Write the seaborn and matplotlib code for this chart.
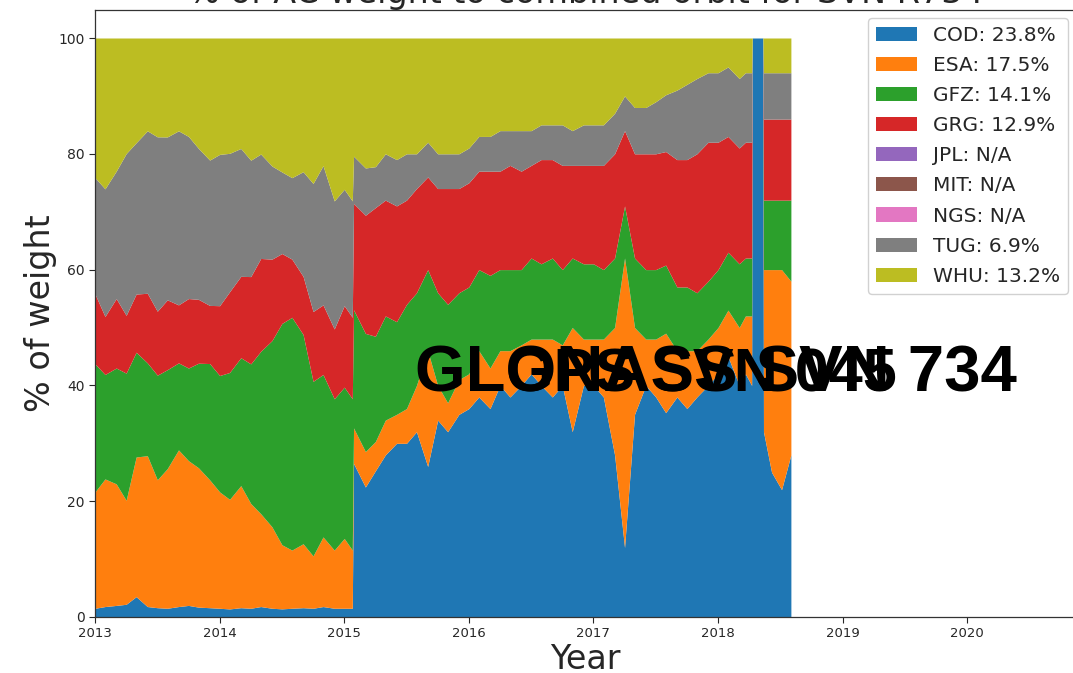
import numpy as np
import matplotlib
matplotlib.use("Agg")
import matplotlib.pyplot as plt
import seaborn as sns

# Analysis centres contributing to the combined orbit
centres = ["COD", "ESA", "GFZ", "GRG", "JPL", "MIT", "NGS", "TUG", "WHU"]
# Mean share of each centre over the whole period (legend text)
mean_share = ["23.8%", "17.5%", "14.1%", "12.9%", "N/A", "N/A", "N/A", "6.9%", "13.2%"]
year_ticks = [2013, 2014, 2015, 2016, 2017, 2018, 2019, 2020]

# Epochs (decimal year) of the weight samples
epochs = [
    2013.00, 2013.08, 2013.17, 2013.25, 2013.33, 2013.42, 2013.50, 2013.58, 2013.67, 2013.75, 2013.83, 2013.92,
    2014.00, 2014.08, 2014.17, 2014.25, 2014.33, 2014.42, 2014.50, 2014.58, 2014.67, 2014.75, 2014.83, 2014.92,
    2015.00, 2015.065, 2015.075, 2015.17, 2015.25, 2015.33, 2015.42, 2015.50, 2015.58, 2015.67, 2015.75, 2015.83, 2015.92,
    2016.00, 2016.08, 2016.17, 2016.25, 2016.33, 2016.42, 2016.50, 2016.58, 2016.67, 2016.75, 2016.83, 2016.92,
    2017.00, 2017.08, 2017.17, 2017.25, 2017.33, 2017.42, 2017.50, 2017.58, 2017.67, 2017.75, 2017.83, 2017.92,
    2018.00, 2018.08, 2018.17, 2018.22, 2018.27, 2018.275, 2018.36, 2018.365, 2018.43, 2018.51, 2018.585,
]

# Relative weight of each centre at every epoch
cod = [1.5, 1.8, 2.0, 2.2, 3.5, 1.8, 1.6, 1.5, 1.8, 2.0, 1.7, 1.6,
       1.5, 1.4, 1.6, 1.5, 1.8, 1.5, 1.4, 1.5, 1.6, 1.5, 1.8, 1.5,
       1.5, 1.5, 26, 22, 25, 28, 30, 30, 32, 26, 34, 32, 35,
       36, 38, 36, 40, 38, 40, 42, 40, 38, 40, 32, 40,
       40, 38, 28, 12, 35, 40, 38, 36, 38, 36, 38, 40,
       42, 45, 40, 42, 40, 100, 100, 32, 25, 22, 28]
esa = [20, 22, 21, 18, 24, 26, 22, 24, 27, 25, 24, 22,
       20, 19, 21, 18, 16, 14, 11, 10, 11, 9, 12, 10,
       12, 10, 6, 6, 5, 6, 5, 6, 8, 20, 6, 5, 6,
       6, 8, 7, 6, 8, 7, 6, 8, 10, 7, 18, 8,
       8, 10, 22, 50, 15, 8, 10, 14, 8, 10, 8, 8,
       8, 8, 10, 10, 12, 0, 0, 28, 35, 38, 30]
gfz = [22, 18, 20, 22, 18, 16, 18, 17, 15, 16, 18, 20,
       20, 22, 22, 24, 28, 32, 38, 40, 36, 30, 28, 26,
       26, 26, 20, 20, 18, 18, 16, 18, 16, 14, 16, 17, 15,
       15, 14, 16, 14, 14, 13, 14, 13, 14, 13, 12, 13,
       13, 12, 12, 9, 12, 12, 12, 12, 11, 11, 10, 10,
       10, 10, 11, 10, 10, 0, 0, 12, 12, 12, 14]
grg = [12, 10, 12, 10, 10, 12, 11, 12, 10, 12, 11, 10,
       12, 14, 14, 15, 16, 14, 12, 10, 10, 12, 12, 12,
       14, 14, 18, 20, 22, 20, 20, 18, 18, 16, 18, 20, 18,
       18, 17, 18, 17, 18, 17, 16, 18, 17, 18, 16, 17,
       17, 18, 18, 13, 18, 20, 20, 20, 22, 22, 24, 24,
       22, 20, 20, 20, 20, 0, 0, 14, 14, 14, 14]
jpl = [0] * len(epochs)
mit = [0] * len(epochs)
ngs = [0] * len(epochs)
tug = [20, 22, 22, 28, 26, 28, 30, 28, 30, 28, 26, 25,
       26, 24, 22, 20, 18, 16, 14, 14, 18, 22, 24, 22,
       20, 20, 8, 8, 7, 8, 8, 8, 6, 6, 6, 6, 6,
       6, 6, 6, 7, 6, 7, 6, 6, 6, 7, 6, 7,
       7, 7, 7, 6, 8, 8, 9, 10, 12, 13, 13, 12,
       12, 12, 12, 12, 12, 0, 0, 8, 8, 8, 8]
whu = [24, 26, 23, 20, 18, 16, 17, 17, 16, 17, 19, 21,
       20, 20, 19, 21, 20, 22, 23, 24, 23, 25, 22, 28,
       26, 28, 20, 22, 22, 20, 21, 20, 20, 18, 20, 20, 20,
       19, 17, 17, 16, 16, 16, 16, 15, 15, 15, 16, 15,
       15, 15, 13, 10, 12, 12, 11, 10, 9, 8, 7, 6,
       6, 5, 7, 6, 6, 0, 0, 6, 6, 6, 6]

weights = np.array([cod, esa, gfz, grg, jpl, mit, ngs, tug, whu], dtype=float)
percent = weights / weights.sum(axis=0) * 100.0

sns.set_style("ticks")
plt.rcParams["font.family"] = ["DejaVu Sans"]
palette = sns.color_palette("tab10", len(centres))

W, H = 1073, 673
fig = plt.figure(figsize=(W / 100, H / 100), dpi=100)
ax = fig.add_axes([95 / W, 56 / H, (1076 - 95) / W, (617 - 10) / H])

labels = [f"{c}: {s}" for c, s in zip(centres, mean_share)]
ax.stackplot(epochs, percent, colors=palette, labels=labels, linewidth=0)

ax.set_xlim(2013, 2013 + (1076 - 95) / 124.6)
ax.set_ylim(0, 100 + 28 / 5.79)
ax.set_xticks(year_ticks)
ax.set_xticklabels([str(y) for y in year_ticks], fontsize=9.5)
ax.set_yticks([0, 20, 40, 60, 80, 100])
ax.tick_params(axis="y", labelsize=10, length=4, width=0.8)
ax.tick_params(axis="x", length=4, width=0.8)
for side in ["left", "bottom", "top"]:
    ax.spines[side].set_color("#333333")
    ax.spines[side].set_linewidth(0.9)

ax.set_xlabel("Year", fontsize=24, labelpad=2)
ax.set_ylabel("% of weight", fontsize=24, labelpad=1)
ax.set_title("% of AC weight to combined orbit for SVN R734", fontsize=24, pad=2)

ax.legend(loc="upper right", fontsize=14.5, labelspacing=0.55,
          borderaxespad=0.4, handlelength=2.0, framealpha=0.9)

# Satellite identifiers drawn over the plot
fig.text(415 / W, 1 - 392 / H, "GLONASS SVN 734", fontsize=47, fontweight="bold",
         family="Liberation Sans", ha="left", va="baseline", color="black")
fig.text(506 / W, 1 - 392 / H, "GPS SVN 045", fontsize=44, fontweight="bold",
         family="Liberation Sans", ha="left", va="baseline", color="black")

fig.savefig("out.png", dpi=100)
